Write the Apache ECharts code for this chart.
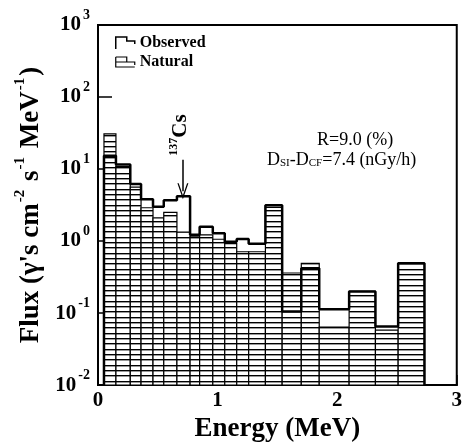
<!DOCTYPE html>
<html>
<head>
<meta charset="utf-8">
<script src="https://cdn.jsdelivr.net/npm/echarts@6/dist/echarts.min.js"></script>
<style>
  html, body { margin: 0; padding: 0; background: #fff; }
  #chart { width: 465px; height: 448px; }
</style>
</head>
<body>
<div id="chart"></div>
<script>
// bin edges (MeV) and flux per bin
var binEdges = [0.05, 0.15, 0.27, 0.36, 0.46, 0.55, 0.66, 0.77, 0.85, 0.96, 1.06,
                1.16, 1.26, 1.40, 1.54, 1.70, 1.85, 2.10, 2.32, 2.51, 2.73];
var observedFlux = [15.3, 11.6, 6.2, 3.8, 3.0, 3.7, 4.2, 1.22, 1.58, 1.28, 0.98,
                    1.07, 0.92, 3.15, 0.105, 0.42, 0.113, 0.20, 0.065, 0.49];
var naturalFlux = [30.7, 10.8, 5.6, 2.9, 2.1, 2.5, 1.33, 1.14, 1.22, 1.06, 0.92,
                   0.71, 0.71, 2.94, 0.36, 0.49, 0.064, 0.20, 0.058, 0.49];
var xTicks = [0, 1, 2, 3];
var yRange = [0.01, 1000];
// 137Cs arrow: energy, from, to
var csArrow = [0.71, 13.5, 4.9];

var serif = '"Liberation Serif", "DejaVu Serif", serif';

// horizontal hatch pattern for the natural bars
var hatch = document.createElement('canvas');
hatch.width = 8; hatch.height = 16;
var hctx = hatch.getContext('2d');
hctx.fillStyle = '#fff';
hctx.fillRect(0, 0, 8, 16);
hctx.fillStyle = '#000';
[2, 7, 13].forEach(function (r) { hctx.fillRect(0, r, 8, 1); });
hctx.fillStyle = '#999';
[3, 8, 14].forEach(function (r) { hctx.fillRect(0, r, 8, 1); });

var naturalData = [];
var stepData = [[binEdges[0], yRange[0]]];
for (var i = 0; i < naturalFlux.length; i++) {
    naturalData.push([binEdges[i], binEdges[i + 1], naturalFlux[i]]);
    stepData.push([binEdges[i], observedFlux[i]]);
    stepData.push([binEdges[i + 1], observedFlux[i]]);
}
stepData.push([binEdges[binEdges.length - 1], yRange[0]]);

var myChart = echarts.init(document.getElementById('chart'));
var option = {
    animation: false,
    backgroundColor: '#fff',
    grid: { left: 98, right: 7, top: 25, bottom: 51, show: true, borderColor: '#000', borderWidth: 2 },
    legend: {
        left: 110, top: 30, orient: 'vertical', itemWidth: 19, itemHeight: 13, itemGap: 3,
        textStyle: { fontFamily: serif, fontSize: 16, fontWeight: 'bold', color: '#000' },
        data: [
            { name: 'Observed', icon: 'path://M0,12L0,0L11,0L11,4L19,4L19,7',
              itemStyle: { color: 'rgba(0,0,0,0)', borderColor: '#000', borderWidth: 1.5 } },
            { name: 'Natural', icon: 'path://M0,0L11,0L11,5L19,5L19,8M0,0L0,10L19,10M0,5L11,5',
              itemStyle: { color: 'rgba(0,0,0,0)', borderColor: '#000', borderWidth: 1.2 } }
        ]
    },
    xAxis: {
        type: 'value', min: xTicks[0], max: xTicks[xTicks.length - 1], interval: 1,
        name: 'Energy (MeV)', nameLocation: 'middle', nameGap: 27,
        nameTextStyle: { fontFamily: serif, fontSize: 27, fontWeight: 'bold', color: '#000' },
        axisLine: { lineStyle: { color: '#000', width: 2 } },
        axisTick: { inside: true, length: 10, lineStyle: { color: '#000', width: 1.5 } },
        axisLabel: { margin: 5, fontFamily: serif, fontSize: 21, fontWeight: 'bold', color: '#000' },
        splitLine: { show: false }
    },
    yAxis: {
        type: 'log', logBase: 10, min: yRange[0], max: yRange[1],
        name: '{a|Flux (γ\'s cm}{s|-2}{a| s}{s|-1}{a| MeV}{s|-1}{a|)}',
        nameLocation: 'middle', nameRotate: 90, nameGap: 46,
        nameTextStyle: {
            color: '#000',
            rich: {
                a: { fontFamily: serif, fontSize: 27, fontWeight: 'bold', lineHeight: 36, color: '#000' },
                s: { fontFamily: serif, fontSize: 15, fontWeight: 'bold', lineHeight: 15, verticalAlign: 'top', padding: [0, 2, 0, 1], color: '#000' }
            }
        },
        axisLine: { lineStyle: { color: '#000', width: 2 } },
        axisTick: { inside: true, length: 14, lineStyle: { color: '#000', width: 1.5 } },
        minorTick: { show: false },
        splitLine: { show: false },
        axisLabel: {
            margin: 8,
            formatter: function (v) {
                return '{b|10}{s|' + Math.round(Math.log10(v)) + '}';
            },
            rich: {
                b: { fontFamily: serif, fontSize: 21, fontWeight: 'bold', lineHeight: 34, color: '#000' },
                s: { fontFamily: serif, fontSize: 14, fontWeight: 'bold', lineHeight: 14, verticalAlign: 'top', padding: [0, 0, 0, 2], color: '#000' }
            }
        }
    },
    graphic: [
        { type: 'text', left: 317, top: 131,
          style: { text: 'R=9.0 (%)', font: '18px ' + serif, fill: '#000' } },
        { type: 'text', left: 267, top: 151,
          style: {
              text: '{m|D}{c|SI}{m|-D}{c|CF}{m|=7.4 (nGy/h)}',
              rich: {
                  m: { fontFamily: serif, fontSize: 18, color: '#000', lineHeight: 20, verticalAlign: 'bottom' },
                  c: { fontFamily: serif, fontSize: 11, color: '#000', lineHeight: 14, verticalAlign: 'bottom' }
              }
          } },
        { type: 'text', x: 181, y: 135, rotation: Math.PI / 2,
          style: {
              text: '{s|137}{c|Cs}', align: 'center', verticalAlign: 'middle',
              rich: {
                  s: { fontFamily: serif, fontSize: 12, fontWeight: 'bold', lineHeight: 12, verticalAlign: 'top', color: '#000' },
                  c: { fontFamily: serif, fontSize: 21, fontWeight: 'bold', lineHeight: 26, color: '#000' }
              }
          } }
    ],
    series: [
        {
            name: 'Natural', type: 'custom', clip: true,
            itemStyle: { color: '#000' },
            renderItem: function (params, api) {
                var p0 = api.coord([api.value(0), api.value(2)]);
                var p1 = api.coord([api.value(1), yRange[0]]);
                return {
                    type: 'rect',
                    shape: { x: p0[0], y: p0[1], width: p1[0] - p0[0], height: p1[1] - p0[1] },
                    style: { fill: { image: hatch, repeat: 'repeat' }, stroke: '#000', lineWidth: 1.2 }
                };
            },
            data: naturalData
        },
        {
            name: 'Observed', type: 'line', symbol: 'none', z: 5,
            itemStyle: { color: '#000' },
            lineStyle: { color: '#000', width: 2.5 },
            data: stepData,
            markLine: {
                silent: true, animation: false,
                symbol: ['none', 'path://M0,10L5,0L10,10L8.8,10L5,2.6L1.2,10Z'],
                symbolSize: [11, 16],
                label: { show: false },
                lineStyle: { color: '#000', width: 1.5, type: 'solid' },
                data: [[{ coord: [csArrow[0], csArrow[1]] }, { coord: [csArrow[0], csArrow[2]] }]]
            }
        }
    ]
};
myChart.setOption(option);
</script>
</body>
</html>
